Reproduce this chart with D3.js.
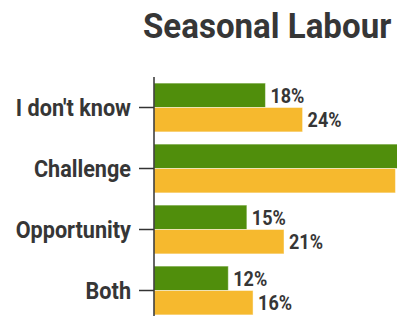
<!DOCTYPE html>
<html>
<head>
<meta charset="utf-8">
<script src="https://cdn.jsdelivr.net/npm/d3@7"></script>
<style>
  html, body { margin: 0; padding: 0; background: #fff; overflow: hidden; }
  text { font-family: Roboto, "Noto Sans", sans-serif; font-weight: 700; fill: #363636; }
</style>
</head>
<body>
<svg id="chart" width="397" height="316"></svg>
<script>
const title = "Seasonal Labour";
const categories = ["I don't know", "Challenge", "Opportunity", "Both"];
const seriesNames = ["Series A", "Series B"];
const seriesA = [18, 55, 15, 12];
const seriesB = [24, 39, 21, 16];
const colors = ["#508e0c", "#f6b92e"];

const W = 397, H = 316;
const svg = d3.select("#chart");

const rows = categories.map((c, i) => ({ cat: c, values: [seriesA[i], seriesB[i]] }));

const y = d3.scaleBand().domain(categories).range([77, 321]).paddingInner(0.2).paddingOuter(0.1);
const ySub = d3.scaleBand().domain(seriesNames).range([0, y.bandwidth()]).padding(0);
const x = d3.scaleLinear().domain([0, 55]).range([154, 494.5]);

// Title (condensed via horizontal scale)
const fTitle = 0.945;
svg.append("text")
  .attr("transform", `translate(143,38) scale(${fTitle},1)`)
  .attr("font-size", 35)
  .attr("fill", "#333")
  .text(title);

// Bars
const groups = svg.append("g").selectAll("g").data(rows).join("g")
  .attr("transform", d => `translate(0,${y(d.cat)})`);

groups.selectAll("rect").data(d => d.values.map((v, i) => ({ v, i }))).join("rect")
  .attr("x", x(0))
  .attr("y", d => ySub(seriesNames[d.i]))
  .attr("width", d => x(d.v) - x(0))
  .attr("height", ySub.bandwidth())
  .attr("fill", d => colors[d.i])
  .attr("stroke", "#fff")
  .attr("stroke-opacity", 0.45)
  .attr("stroke-width", 1);

// Value labels (only those that fall inside the visible area, as in the reference)
const fVal = 0.9;
groups.selectAll("text.val")
  .data(d => d.values.map((v, i) => ({ v, i })).filter(e => x(e.v) + 40 < W))
  .join("text")
  .attr("class", "val")
  .attr("transform", d => `translate(${x(d.v) + 5},${ySub(seriesNames[d.i]) + ySub.bandwidth() / 2}) scale(${fVal},1)`)
  .attr("dy", "0.36em")
  .attr("font-size", 20)
  .text(d => d.v + "%");

// Axis
const fCat = 0.94;
const axis = svg.append("g")
  .attr("transform", `translate(${x(0)},0)`)
  .call(d3.axisLeft(y).tickSize(15).tickPadding(8));
axis.attr("font-family", null).attr("font-size", null);
axis.select(".domain").attr("stroke", "#333").attr("stroke-width", 1.5)
  .attr("d", `M0,77V${H}`);
axis.selectAll(".tick line").attr("stroke", "#333").attr("stroke-width", 1.5);
axis.selectAll(".tick text")
  .attr("font-size", 23)
  .attr("fill", "#363636")
  .attr("x", null)
  .attr("transform", `translate(-23,0) scale(${fCat},1)`)
  .attr("dy", "0.36em");
</script>
</body>
</html>
